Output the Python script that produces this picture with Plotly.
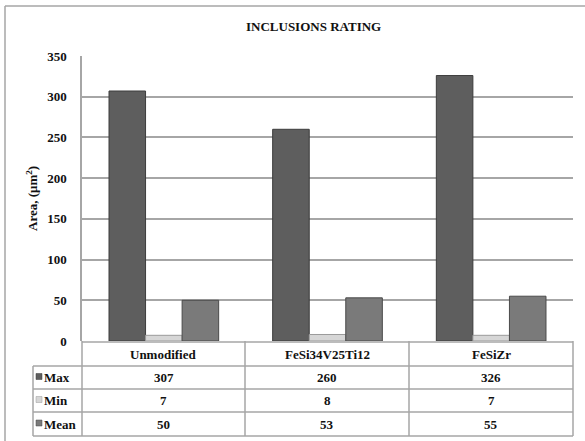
import plotly.graph_objects as go

categories = ["Unmodified", "FeSi34V25Ti12", "FeSiZr"]
series_names = ["Max", "Min", "Mean"]
max_vals = [307, 260, 326]
min_vals = [7, 8, 7]
mean_vals = [50, 53, 55]
y_ticks = [0, 50, 100, 150, 200, 250, 300, 350]
title_text = "INCLUSIONS RATING"
y_title = "Area, (μm<sup>2</sup>)"

series_values = [max_vals, min_vals, mean_vals]
colors = ["#5e5e5e", "#d6d6d6", "#7a7a7a"]
edge_colors = ["#3c3c3c", "#9a9a9a", "#4a4a4a"]

W, H = 585, 441
def px(x):
    return x / W
def py(y):
    return 1 - y / H

PL, PR, PT, PB = 82, 573, 56, 341
FONT = "Liberation Serif"
GRID = "#a6a6a6"
TXT = dict(family=FONT, size=13, color="#111111", weight="bold")

fig = go.Figure()
for name, vals, c, ec in zip(series_names, series_values, colors, edge_colors):
    fig.add_trace(go.Bar(
        x=categories, y=vals, name=name,
        marker=dict(color=c, line=dict(color=ec, width=1)),
        showlegend=False,
    ))

fig.update_layout(
    width=W, height=H,
    margin=dict(l=0, r=0, t=0, b=0, pad=0, autoexpand=False),
    paper_bgcolor="white", plot_bgcolor="white",
    barmode="group", bargap=0.33, bargroupgap=0,
    xaxis=dict(domain=[px(PL), px(PR)], showticklabels=False, showgrid=False,
               zeroline=False, showline=False, fixedrange=True, automargin=False),
    yaxis=dict(domain=[py(PB), py(PT)], range=[0, 350], tickvals=y_ticks,
               showgrid=True, gridcolor=GRID, gridwidth=1.5, automargin=False,
               zeroline=False, showline=True, linecolor=GRID, linewidth=1.5,
               ticks="", ticklabelstandoff=11, fixedrange=True,
               tickfont=TXT),
    font=dict(family=FONT),
)

shapes = []
def line(x0, y0, x1, y1, w=1.5, c=GRID):
    shapes.append(dict(type="line", xref="paper", yref="paper",
                       x0=px(x0), y0=py(y0), x1=px(x1), y1=py(y1),
                       line=dict(color=c, width=w)))

# outer frame
line(5, 6, 585, 6)
line(5, 6, 5, 441)

# data table grid
row_lines = [342, 366, 389, 412, 436]
col_lines = [PL, 245, 409, PR]
line(PL, row_lines[0], PR, row_lines[0])
for y in row_lines[1:]:
    line(33, y, PR, y)
for x in col_lines:
    line(x, PB, x, row_lines[-1])
line(33, row_lines[1], 33, row_lines[-1])

def ann(text, x, y, xanchor="center", angle=0):
    return dict(text=text, x=px(x), y=py(y), xref="paper", yref="paper",
                showarrow=False, xanchor=xanchor, yanchor="middle",
                textangle=angle, font=TXT)

annotations = [ann(title_text, 313, 27), ann(y_title, 32, 199, angle=-90)]

col_centers = [(col_lines[i] + col_lines[i + 1]) / 2 for i in range(3)]
row_centers = [(row_lines[i] + row_lines[i + 1]) / 2 for i in range(4)]

for cx, cat in zip(col_centers, categories):
    annotations.append(ann(cat, cx, row_centers[0]))

for r, (name, vals, c, ec) in enumerate(zip(series_names, series_values, colors, edge_colors)):
    ry = row_centers[r + 1]
    shapes.append(dict(type="rect", xref="paper", yref="paper",
                       x0=px(36), x1=px(42), y0=py(ry + 2), y1=py(ry - 4),
                       fillcolor=c, line=dict(color=ec, width=0.5)))
    annotations.append(ann(name, 42, ry, xanchor="left"))
    for cx, v in zip(col_centers, vals):
        annotations.append(ann(str(v), cx, ry))

fig.update_layout(shapes=shapes, annotations=annotations)
fig.write_html("out.html", config={"displayModeBar": False},
               post_script="document.body.style.margin='0';document.body.style.overflow='hidden';")
